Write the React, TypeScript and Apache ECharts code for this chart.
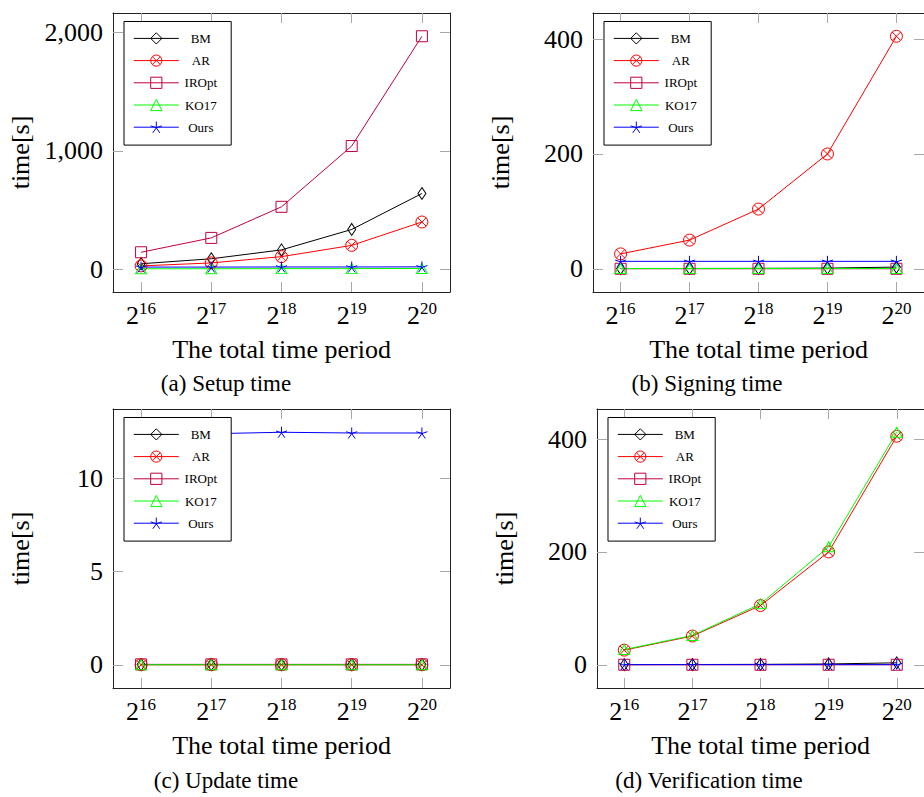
import React, { useEffect, useRef } from 'react';
import * as echarts from 'echarts';

// ---------- data ----------
const exponents = [16, 17, 18, 19, 20];
const seriesNames = ['BM', 'AR', 'IROpt', 'KO17', 'Ours'];

// (a) Setup time
const setupBM = [48, 90, 165, 337, 640];
const setupAR = [30, 55, 108, 203, 400];
const setupIROpt = [145, 266, 528, 1040, 1965];
const setupKO17 = [6, 6, 7, 7, 8];
const setupOurs = [20, 20, 21, 21, 22];

// (b) Signing time
const signBM = [0.5, 0.6, 0.8, 1.2, 3.0];
const signAR = [26, 50, 104, 200, 405];
const signIROpt = [0.1, 0.1, 0.1, 0.1, 0.1];
const signKO17 = [0.5, 0.5, 0.5, 0.6, 0.6];
const signOurs = [13, 13, 13, 13, 13];

// (c) Update time
const updBM = [0.02, 0.02, 0.02, 0.02, 0.02];
const updAR = [0.01, 0.01, 0.01, 0.01, 0.01];
const updIROpt = [0.03, 0.03, 0.03, 0.03, 0.03];
const updKO17 = [0.01, 0.01, 0.01, 0.01, 0.01];
const updOurs = [12.35, 12.38, 12.46, 12.42, 12.42];

// (d) Verification time
const verBM = [0.3, 0.5, 0.8, 1.5, 3.5];
const verAR = [26, 51, 105, 200, 405];
const verIROpt = [0.1, 0.1, 0.1, 0.1, 0.1];
const verKO17 = [27, 52, 108, 209, 412];
const verOurs = [0.3, 0.3, 0.3, 0.3, 0.3];

const yTicksSetup = [0, 1000, 2000];
const yTicksSign = [0, 200, 400];
const yTicksUpdate = [0, 5, 10];
const yTicksVerify = [0, 200, 400];

const captions = ['(a) Setup time', '(b) Signing time', '(c) Update time', '(d) Verification time'];
const xAxisName = 'The total time period';
const yAxisName = 'time[s]';

// ---------- layout / style ----------
const FONT = 'Liberation Serif, serif';

const panels = [
  { values: [setupBM, setupAR, setupIROpt, setupKO17, setupOurs], yTicks: yTicksSetup },
  { values: [signBM, signAR, signIROpt, signKO17, signOurs], yTicks: yTicksSign },
  { values: [updBM, updAR, updIROpt, updKO17, updOurs], yTicks: yTicksUpdate },
  { values: [verBM, verAR, verIROpt, verKO17, verOurs], yTicks: yTicksVerify },
];

const gridBoxes = [
  { left: 113, top: 13, width: 337, height: 279 },
  { left: 593, top: 13, width: 337, height: 279 },
  { left: 113, top: 409, width: 337, height: 279 },
  { left: 597, top: 409, width: 337, height: 279 },
];

const captionPos = [
  [226, 383],
  [707, 383],
  [226, 780],
  [709, 780],
];

const OTIMES =
  'path://M0,-1A1,1,0,1,1,0,1A1,1,0,1,1,0,-1ZM-0.707,-0.707L0.707,0.707M-0.707,0.707L0.707,-0.707';
const STAR =
  'path://M0,0L0,-1M0,0L0.951,-0.309M0,0L0.588,0.809M0,0L-0.588,0.809M0,0L-0.951,-0.309';

const seriesStyles = [
  { color: '#000000', symbol: 'diamond', size: [8, 12] },
  { color: '#ff0000', symbol: OTIMES, size: 12 },
  { color: '#bf0040', symbol: 'rect', size: 11 },
  { color: '#00ff00', symbol: 'triangle', size: [11, 10] },
  { color: '#0000ff', symbol: STAR, size: 11 },
];

const TICK_COLOR = '#a8a8a8';
const FRAME_COLOR = '#222222';

function buildOption() {
  const xMin = exponents[0] - 0.1 * (exponents[exponents.length - 1] - exponents[0]);
  const xMax = exponents[exponents.length - 1] + 0.1 * (exponents[exponents.length - 1] - exponents[0]);

  const grid: any[] = [];
  const xAxis: any[] = [];
  const yAxis: any[] = [];
  const series: any[] = [];
  const legend: any[] = [];

  panels.forEach((p, i) => {
    const box = gridBoxes[i];
    grid.push({ ...box, containLabel: false, show: false });

    const all = p.values.flat();
    const dMin = Math.min(...all);
    const dMax = Math.max(...all);
    const pad = 0.1 * (dMax - dMin);
    const yMin = dMin - pad;
    const yMax = dMax + pad;

    const tickCommon = {
      show: true,
      inside: true,
      length: 10,
      lineStyle: { color: TICK_COLOR, width: 1 },
    };
    const lineCommon = { show: true, onZero: false, lineStyle: { color: FRAME_COLOR, width: 1 } };

    xAxis.push({
      type: 'value',
      gridIndex: i,
      position: 'bottom',
      min: xMin,
      max: xMax,
      axisLine: lineCommon,
      axisTick: { ...tickCommon, customValues: exponents },
      axisLabel: {
        customValues: exponents,
        margin: 8,
        formatter: (v: number) => `{b|2}{s|${Math.round(v)}}`,
        rich: {
          b: { fontSize: 26, fontFamily: FONT, color: '#000', lineHeight: 30 },
          s: { fontSize: 17, fontFamily: FONT, color: '#000', lineHeight: 18, verticalAlign: 'top' },
        },
      },
      splitLine: { show: false },
      name: xAxisName,
      nameLocation: 'middle',
      nameGap: 44,
      nameTextStyle: { fontSize: 26, fontFamily: FONT, color: '#000' },
    });
    xAxis.push({
      type: 'value',
      gridIndex: i,
      position: 'top',
      min: xMin,
      max: xMax,
      axisLine: lineCommon,
      axisTick: { ...tickCommon, customValues: exponents },
      axisLabel: { show: false },
      splitLine: { show: false },
    });

    yAxis.push({
      type: 'value',
      gridIndex: i,
      position: 'left',
      min: yMin,
      max: yMax,
      axisLine: lineCommon,
      axisTick: { ...tickCommon, customValues: p.yTicks },
      axisLabel: {
        customValues: p.yTicks,
        margin: 10,
        fontSize: 26,
        fontFamily: FONT,
        color: '#000',
        formatter: (v: number) => Math.round(v).toLocaleString('en-US'),
      },
      splitLine: { show: false },
      name: yAxisName,
      nameLocation: 'middle',
      nameGap: 80,
      nameTextStyle: { fontSize: 26, fontFamily: FONT, color: '#000' },
    });
    yAxis.push({
      type: 'value',
      gridIndex: i,
      position: 'right',
      min: yMin,
      max: yMax,
      axisLine: lineCommon,
      axisTick: { ...tickCommon, customValues: p.yTicks },
      axisLabel: { show: false },
      splitLine: { show: false },
    });

    p.values.forEach((vals, k) => {
      const st = seriesStyles[k];
      series.push({
        type: 'line',
        name: seriesNames[k],
        xAxisIndex: 2 * i,
        yAxisIndex: 2 * i,
        data: exponents.map((e, j) => [e, vals[j]]),
        symbol: st.symbol,
        symbolSize: st.size,
        showAllSymbol: true,
        lineStyle: { color: st.color, width: 1 },
        itemStyle: { color: 'rgba(0,0,0,0)', borderColor: st.color, borderWidth: 1 },
        emphasis: { disabled: true },
        silent: true,
        clip: false,
      });
    });

    legend.push({
      orient: 'vertical',
      left: box.left + 11,
      top: box.top + 8.5,
      padding: [10.4, 13.4, 11.4, 9.3],
      itemGap: 9.2,
      itemWidth: 45,
      itemHeight: 14,
      data: seriesNames,
      selectedMode: false,
      backgroundColor: '#ffffff',
      borderColor: '#000000',
      borderWidth: 1,
      lineStyle: { width: 1 },
      itemStyle: { borderWidth: 1 },
      formatter: (name: string) => `{c|${name}}`,
      textStyle: {
        rich: {
          c: { width: 34, align: 'center', fontSize: 13, fontFamily: FONT, color: '#000', lineHeight: 14 },
        },
      },
    });
  });

  const graphic = captions.map((t, i) => ({
    type: 'text',
    x: captionPos[i][0],
    y: captionPos[i][1],
    style: {
      text: t,
      textAlign: 'center',
      textVerticalAlign: 'middle',
      fontSize: 23,
      fontFamily: FONT,
      fill: '#000',
    },
  }));

  return {
    animation: false,
    backgroundColor: '#ffffff',
    textStyle: { fontFamily: FONT },
    grid,
    xAxis,
    yAxis,
    legend,
    series,
    graphic,
  };
}

export default function App() {
  const ref = useRef<HTMLDivElement>(null);
  useEffect(() => {
    if (!ref.current) return;
    const chart = echarts.init(ref.current, undefined, { renderer: 'svg' });
    chart.setOption(buildOption() as any);
    return () => chart.dispose();
  }, []);
  return (
    <div
      ref={ref}
      style={{ position: 'fixed', left: 0, top: 0, width: 924, height: 797, background: '#fff' }}
    />
  );
}
